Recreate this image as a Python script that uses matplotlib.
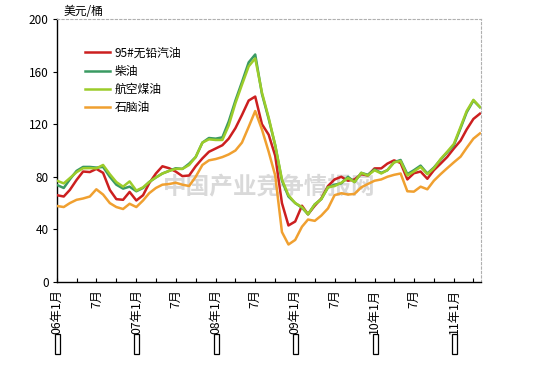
import matplotlib
matplotlib.use("Agg")
import matplotlib.pyplot as plt
import pandas as pd

plt.rcParams['font.family'] = ['Noto Sans CJK SC', 'DejaVu Sans']

dates = pd.date_range("2006-01-01", periods=65, freq="MS")

gasoline95 = [66, 65, 70, 77.6, 84, 83.6, 86, 83, 70, 63, 62.5, 68.5, 62, 66, 75, 82.5,
              88, 86.5, 84, 80.5, 81, 88, 94, 99, 101.5, 104, 109, 117, 127, 138, 141,
              120, 112, 96, 60, 43, 46, 58, 51.5, 58, 63.5, 73, 78, 80, 77, 78, 82, 81,
              86.4, 86.4, 90, 92.5, 90.5, 78, 82.7, 84, 78.5, 85, 90, 95, 101.5, 107.5,
              116, 124, 128]
diesel = [73.8, 71.5, 78, 84.5, 87.5, 87.5, 87, 87.5, 80, 74, 71, 72.5, 69, 71.5, 76, 79.5,
          82.5, 84.5, 86.5, 86, 90, 95, 106, 109.5, 109, 110, 122, 138, 152, 167, 173,
          143, 124, 104, 77, 65, 60, 56.5, 51.5, 59, 63, 72, 74, 75, 80, 76, 83, 81.5,
          85.5, 83, 85, 91, 92.8, 82, 85, 88.5, 82.5, 87, 93, 98.5, 104, 117, 129, 138, 133]
jet = [77, 75, 79, 83.5, 86.5, 86.6, 86.4, 89, 82, 76, 72.5, 76.5, 69.5, 72, 76, 79.5,
       82.5, 84.5, 86, 86, 89, 95, 106, 108.5, 108, 108, 119, 136, 150, 164, 170,
       144, 125, 104, 78, 66, 60, 57, 51.5, 59, 63, 72, 73, 75.5, 79, 76, 83, 81,
       85, 82.5, 85, 91, 92, 81, 84, 87.5, 82, 86.5, 93.5, 99, 105, 118, 130, 138.5, 133]
naphtha = [57.8, 57, 60, 62.5, 63.5, 65, 70.5, 66.5, 60, 57, 55.5, 59.5, 57, 62, 67.5, 71.5,
           74, 74.5, 75.5, 74, 73, 80, 89, 92.5, 93.5, 95, 97, 100, 106, 118, 130,
           116, 99, 81, 38, 28.5, 32, 42, 47.5, 46.5, 50.5, 56, 66, 67.5, 66.5, 67, 72, 74.5,
           77, 78, 80, 81.5, 82.5, 69, 68.7, 72.5, 70.5, 77, 82, 86.5, 91, 95.3, 102, 109, 113]

series_names = ["95#无铅汽油", "柴油", "航空煤油", "石脑油"]
series_colors = ["#cc1f1f", "#3a9a62", "#9ccc2a", "#f0a030"]
yticks = [0, 40, 80, 120, 160, 200]
unit_label = "美元/桶"
watermark = "中国产业竞争情报网"

fig = plt.figure(figsize=(5.45, 3.68), dpi=100)
ax = fig.add_axes([0.1046, 0.2337, 0.7780, 0.7147])

for vals, name, col in zip([gasoline95, diesel, jet, naphtha], series_names, series_colors):
    ax.plot(dates, vals, color=col, lw=1.8, label=name, zorder=3)

ax.set_ylim(0, 200)
ax.set_yticks(yticks)
ax.tick_params(axis='y', direction='out', length=3, labelsize=8.5, pad=3)
ax.set_xlim(pd.Timestamp("2006-01-01"), pd.Timestamp("2011-05-06"))

# x ticks: every 3 months, labels at Jan / Jul
tick_dates = pd.date_range("2006-01-01", "2011-04-01", freq="3MS")
ax.set_xticks(tick_dates)
labels = []
for d in tick_dates:
    if d.month == 1:
        labels.append("%02d年1月" % (d.year % 100))
    elif d.month == 7:
        labels.append("7月")
    else:
        labels.append("")
ax.set_xticklabels(labels, rotation=90, fontsize=8.8, va='top')
ax.tick_params(axis='x', direction='in', length=3, pad=5)

# placeholder box (missing glyph) shown before each year label
for d in tick_dates:
    if d.month == 1:
        ax.annotate("\u2003" * 4, xy=(d, 0), xycoords='data', xytext=(0.4, -37.5),
                    textcoords='offset points', rotation=90, ha='center', va='top',
                    fontsize=3.6, family='DejaVu Sans', annotation_clip=False,
                    bbox=dict(boxstyle='square,pad=0', fc='none', ec='black', lw=0.9))

for s in ['top', 'right']:
    ax.spines[s].set_linestyle((0, (2, 2)))
    ax.spines[s].set_color('#b0b0b0')
    ax.spines[s].set_linewidth(0.8)
for s in ['left', 'bottom']:
    ax.spines[s].set_color('black')
    ax.spines[s].set_linewidth(1.0)

ax.text(0.015, 1.004, unit_label, transform=ax.transAxes, fontsize=8.5, ha='left', va='bottom')
ax.text(0.5, 0.36, watermark, transform=ax.transAxes, fontsize=17, fontweight='bold',
        color='#d0d0d0', alpha=0.8, ha='center', va='center', zorder=2)

leg = ax.legend(loc='upper left', bbox_to_anchor=(0.053, 0.918), frameon=False, fontsize=8.5,
                handlelength=2.1, handletextpad=0.4, labelspacing=0.45, borderpad=0)

fig.savefig("out.png", dpi=100)
